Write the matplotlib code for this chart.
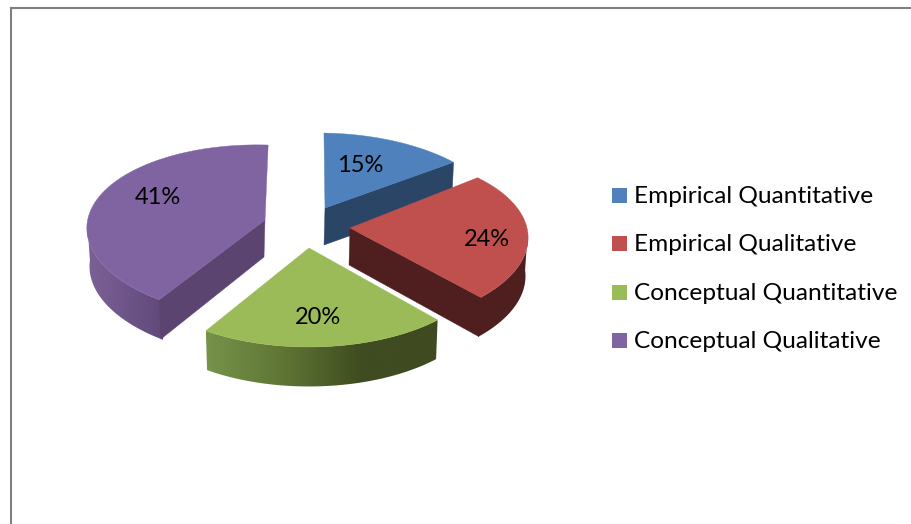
import numpy as np
import matplotlib
matplotlib.use('Agg')
import matplotlib.pyplot as plt
from matplotlib.patches import Polygon, Rectangle
from matplotlib.colors import LinearSegmentedColormap

plt.rcParams['font.family'] = ['Lato', 'DejaVu Sans']

categories = ['Empirical Quantitative', 'Empirical Qualitative',
              'Conceptual Quantitative', 'Conceptual Qualitative']
shares = [15, 24, 20, 41]
top_colors = ['#4f81bd', '#c0504d', '#9bbb59', '#8064a2']
cut_colors = ['#2a4566', '#4f1f1f', '#4f1f1f', '#5c4470']
rim_colors = [['#2a4566', '#2a4566'],
              ['#4f1f1f', '#4f1f1f'],
              ['#76934a', '#5f7534', '#3f4c20', '#3f4a20'],
              ['#7c6197', '#61497a']]

# where each exploded slice has its tip, and where its label goes
tips = [(325, 208), (350, 228), (309, 248), (265, 220)]
label_pos = [(360, 166), (487, 239), (318, 317), (158, 197)]
lifts = [-0.015, 0.02, 0.0, 0.03]

RX, RY, PERSP, LEAN = 176, 85.3, 0.138, 0.07
CENTER_X = 310
DEPTH = 37
TURN = np.radians(1.3)
OVERLAP = np.radians(1.0)


def rim(tip, theta, lift=0.0):
    c = np.cos(theta)
    s = np.sin(theta)
    k = 1 + PERSP * c
    x = tip[0] + RX * s / k - LEAN * (tip[0] - CENTER_X) * c
    y = tip[1] - RY * c / k - lift * np.abs(RX * s / k)
    return x, y


def rim_depth(theta):
    return DEPTH + 1 - 1.5 * np.cos(theta)


def drop_x(x):
    # lower edge of a wall sits a little closer to the middle
    return x - 0.012 * (x - CENTER_X)


fig = plt.figure(figsize=(9.12, 5.24), dpi=100)
ax = fig.add_axes([11 / 912, 0, 901 / 912, 516 / 524])
ax.set_xticks([])
ax.set_yticks([])
for side in ['right', 'bottom']:
    ax.spines[side].set_visible(False)
for side in ['left', 'top']:
    ax.spines[side].set_color('#808080')
    ax.spines[side].set_linewidth(1.5)

edges = np.cumsum([0] + shares) / sum(shares) * 2 * np.pi
edges[1:-1] -= TURN

for i in range(len(shares)):
    start, end = edges[i], edges[i + 1]
    tip = tips[i]
    theta = np.linspace(start, end, 180)
    x, y = rim(tip, theta, lifts[i])

    # outer wall, only the stretch that faces the viewer
    wall_from = max(start, np.radians(95))
    wall_to = min(end, np.radians(265))
    if wall_to > wall_from:
        # run the wall under the cut face so no seam shows between them
        if i == 1:
            wall_to += OVERLAP
        if i == 3:
            wall_from -= OVERLAP
        wt = np.linspace(wall_from, wall_to, 120)
        wx, wy = rim(tip, wt, lifts[i])
        wd = rim_depth(wt)
        outline = np.vstack([np.column_stack([wx, wy]),
                             np.column_stack([drop_x(wx), wy + wd])[::-1]])
        cmap = LinearSegmentedColormap.from_list('rim', rim_colors[i])
        img = ax.imshow(np.linspace(0, 1, 256).reshape(1, -1), cmap=cmap, aspect='auto',
                        extent=(wx.min(), wx.max(), wy.max() + 45, wy.min() - 5),
                        interpolation='bilinear', zorder=i * 3 + 1)
        wall = Polygon(outline, transform=ax.transData, facecolor='none', edgecolor='none')
        ax.add_patch(wall)
        img.set_clip_path(wall)

    # cut face on the edge that looks toward the viewer
    cut_theta = start if i == 3 else end
    ex, ey = rim(tip, cut_theta, lifts[i])
    ed = rim_depth(cut_theta)
    if i != 2:
        ax.add_patch(Polygon([tip, (ex, ey), (drop_x(ex), ey + ed), (tip[0] - 1, tip[1] + DEPTH)],
                             facecolor=cut_colors[i], edgecolor=cut_colors[i],
                             linewidth=0.3, zorder=i * 3 + 2))

    ax.add_patch(Polygon(np.vstack([[tip], np.column_stack([x, y])]),
                         facecolor=top_colors[i], edgecolor=top_colors[i],
                         linewidth=0.3, zorder=i * 3 + 3))
    ax.text(label_pos[i][0], label_pos[i][1], f'{shares[i]}%', fontsize=17,
            ha='center', va='center', color='black', zorder=20)

# legend
for i, name in enumerate(categories):
    row_y = 195.5 + i * 48.3
    ax.add_patch(Rectangle((612, row_y - 7.5), 15, 15, facecolor=top_colors[i],
                           edgecolor='none'))
    ax.text(634, row_y + 1, name, fontsize=17.6, ha='left', va='center', color='black')

ax.set_xlim(11, 912)
ax.set_ylim(524, 8)

fig.savefig('out.png', dpi=100, facecolor='white')
